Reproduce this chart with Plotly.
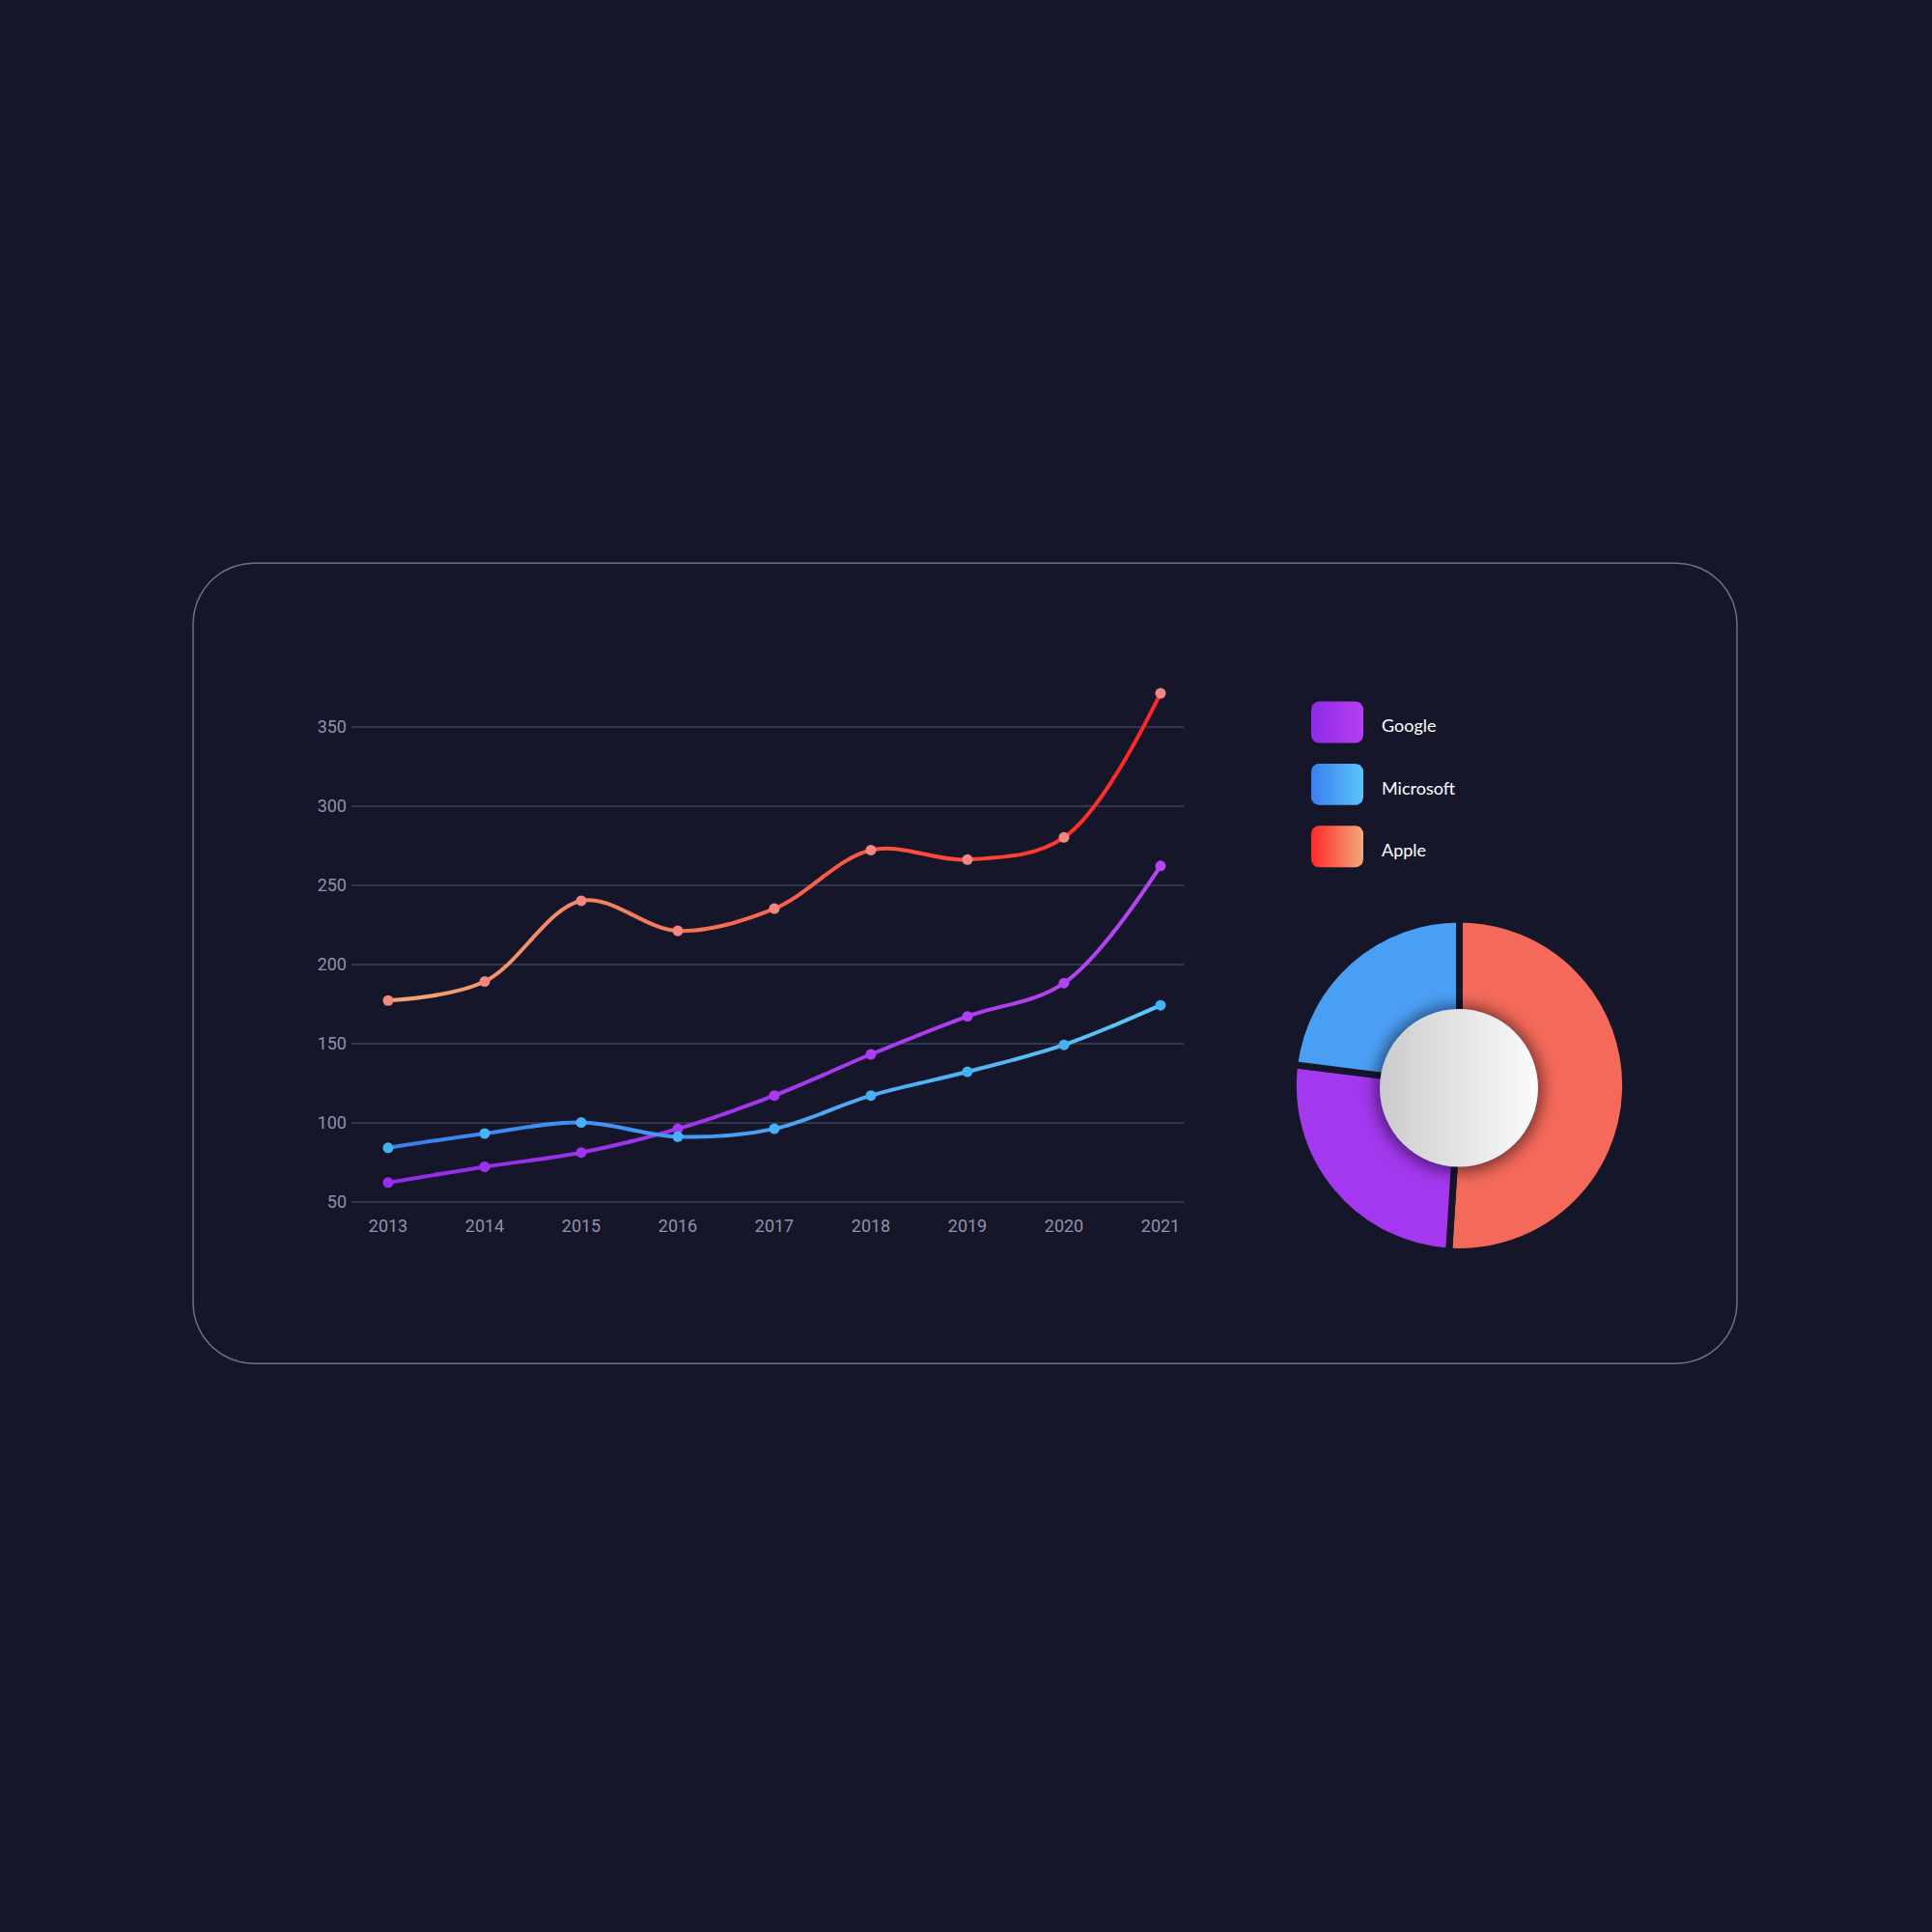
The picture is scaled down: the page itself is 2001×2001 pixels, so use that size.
import base64
import numpy as np
import plotly.graph_objects as go

# data
years = [2013, 2014, 2015, 2016, 2017, 2018, 2019, 2020, 2021]
google = [62, 72, 81, 96, 117, 143, 167, 188, 262]
microsoft = [84, 93, 100, 91, 96, 117, 132, 149, 174]
apple = [177, 189, 240, 221, 235, 272, 266, 280, 371]
y_ticks = [50, 100, 150, 200, 250, 300, 350]

share_names = ["Apple", "Google", "Microsoft"]
share_values = [51, 26, 23]

legend_names = ["Google", "Microsoft", "Apple"]

# styles
BG = "#15162a"
GRID = "#34354b"
TICK = "#9192a8"
BORDER = "#6f7088"

line_grad = {
    "Apple": ("#f0a878", "#ff2424"),
    "Google": ("#8f2de8", "#b845f2"),
    "Microsoft": ("#3a7ef0", "#5cc6fa"),
}
legend_grad = {
    "Google": ("#8c2ce8", "#b83ef0"),
    "Microsoft": ("#3a7ff0", "#5ac4fa"),
    "Apple": ("#ff2a2a", "#f0aa7a"),
}
pie_colors = ["#f4695a", "#a338ee", "#4a9ff4"]

W = 2001
X0, X1 = 2012.62, 2021.24
Y0, Y1 = 46, 385
XDOM = [364 / W, 1226 / W]
YDOM = [1 - 1253.6 / W, 1 - 696.5 / W]
N_SEG = 16


def mix(c0, c1, t):
    a = [int(c0[i:i + 2], 16) for i in (1, 3, 5)]
    b = [int(c1[i:i + 2], 16) for i in (1, 3, 5)]
    return "#" + "".join(f"{round(a[i] + (b[i] - a[i]) * t):02x}" for i in range(3))


def xdom(v):
    return XDOM[0] + (v - X0) / (X1 - X0) * (XDOM[1] - XDOM[0])


def rounded_rect(x0, y0, x1, y1, r, n=10):
    xs, ys = [], []
    corners = [(x1 - r, y0 + r, -90, 0), (x1 - r, y1 - r, 0, 90),
               (x0 + r, y1 - r, 90, 180), (x0 + r, y0 + r, 180, 270)]
    for cx, cy, a0, a1 in corners:
        for a in np.radians(np.linspace(a0, a1, n)):
            xs.append(cx + r * np.cos(a))
            ys.append(cy + r * np.sin(a))
    xs.append(xs[0])
    ys.append(ys[0])
    return xs, ys


fig = go.Figure()
layout_axes = {}

# main axes: grid + tick labels only
fig.add_trace(go.Scatter(x=[], y=[], xaxis="x", yaxis="y", showlegend=False))
layout_axes["xaxis"] = dict(domain=XDOM, range=[X0, X1], anchor="y", tickvals=years,
                            ticktext=[str(y) for y in years], showgrid=False, zeroline=False,
                            showline=False, ticks="", ticklabelstandoff=6,
                            tickfont=dict(family="Roboto", size=18, color=TICK))
layout_axes["yaxis"] = dict(domain=YDOM, range=[Y0, Y1], anchor="x", tickvals=y_ticks,
                            showgrid=True, gridcolor=GRID, gridwidth=1.5, zeroline=False,
                            showline=False, ticks="", ticklabelstandoff=4,
                            tickfont=dict(family="Roboto", size=18, color=TICK))
layout_axes["yaxis2"] = dict(domain=YDOM, range=[Y0, Y1], anchor="x2", visible=False)

# gradient lines: same spline drawn in narrow side-by-side subplots, each a different colour
series = [("Apple", apple), ("Google", google), ("Microsoft", microsoft)]
edges = np.linspace(years[0], years[-1], N_SEG + 1)
pad = 0.012
for k in range(N_SEG):
    ax_id = k + 2
    a, b = edges[k] - pad, edges[k + 1] + pad
    layout_axes[f"xaxis{ax_id}"] = dict(domain=[xdom(a), xdom(b)], range=[a, b],
                                        anchor="y2", visible=False)
    t = (edges[k] + edges[k + 1]) / 2
    t = (t - years[0]) / (years[-1] - years[0])
    for name, vals in series:
        fig.add_trace(go.Scatter(
            x=years, y=vals, mode="lines", xaxis=f"x{ax_id}", yaxis="y2",
            line=dict(shape="spline", smoothing=1, simplify=False, width=4,
                      color=mix(*line_grad[name], t)),
            hoverinfo="skip", showlegend=False))

# markers on top
mk_id = N_SEG + 2
layout_axes[f"xaxis{mk_id}"] = dict(domain=XDOM, range=[X0, X1], anchor="y2", visible=False)
tt = [(y - years[0]) / (years[-1] - years[0]) for y in years]
marker_colors = {
    "Apple": ["#f4877f"] * len(years),
    "Google": [mix("#982ff0", "#b646f4", t) for t in tt],
    "Microsoft": ["#46b2f6"] * len(years),
}
for name, vals in series:
    fig.add_trace(go.Scatter(
        x=years, y=vals, mode="markers", name=name, xaxis=f"x{mk_id}", yaxis="y2",
        marker=dict(size=11, color=marker_colors[name]), showlegend=False))

# canvas axes in pixel units for the card and legend swatches
cv_id = N_SEG + 3
layout_axes[f"xaxis{cv_id}"] = dict(domain=[0, 1], range=[0, W], anchor="y3", visible=False)
layout_axes["yaxis3"] = dict(domain=[0, 1], range=[W, 0], anchor=f"x{cv_id}", visible=False)

bx, by = rounded_rect(200, 584.5, 1799, 1415, 63, n=24)
fig.add_trace(go.Scatter(x=bx, y=by, mode="lines", xaxis=f"x{cv_id}", yaxis="y3",
                         line=dict(color=BORDER, width=1.5), hoverinfo="skip", showlegend=False))

annotations = []
for i, name in enumerate(legend_names):
    top = 728 + i * 64.5
    sx, sy = rounded_rect(1358, top, 1412, top + 43, 8)
    c0, c1 = legend_grad[name]
    fig.add_trace(go.Scatter(
        x=sx, y=sy, mode="lines", fill="toself", xaxis=f"x{cv_id}", yaxis="y3",
        line=dict(width=0, color=c0),
        fillgradient=dict(type="horizontal", start=1358, stop=1412,
                          colorscale=[[0, c0], [1, c1]]),
        hoverinfo="skip", showlegend=False))
    annotations.append(dict(x=1429 / W, y=1 - (top + 25) / W, xref="paper", yref="paper",
                            text=name, showarrow=False, xanchor="left", yanchor="middle",
                            font=dict(family="Lato", size=18, color="#ffffff")))

# donut
cx, cy, r = 1511.5, 1126.5, 172.5
fig.add_trace(go.Pie(
    labels=share_names, values=share_values, sort=False, direction="clockwise", rotation=0,
    hole=0.4, textinfo="none", hoverinfo="label+percent", showlegend=False,
    marker=dict(colors=pie_colors, line=dict(color=BG, width=7)),
    domain=dict(x=[(cx - r) / W, (cx + r) / W], y=[1 - (cy + r) / W, 1 - (cy - r) / W])))

# white centre disc with soft shadow (svg image so it can carry a gradient)
wx, wy, box = 1511, 1129, 260
svg = (
    "<svg xmlns='http://www.w3.org/2000/svg' width='260' height='260' viewBox='0 0 260 260'>"
    "<defs><linearGradient id='g' x1='0' x2='1' y1='0' y2='0'>"
    "<stop offset='0' stop-color='#cbcbcd'/><stop offset='1' stop-color='#fcfcfc'/>"
    "</linearGradient><filter id='s' x='-50%' y='-50%' width='200%' height='200%'>"
    "<feGaussianBlur stdDeviation='8'/></filter></defs>"
    "<circle cx='130' cy='131' r='86' fill='#06060f' fill-opacity='0.55' filter='url(#s)'/>"
    "<circle cx='130' cy='130' r='82' fill='url(#g)'/></svg>"
)
disc_src = "data:image/svg+xml;base64," + base64.b64encode(svg.encode()).decode()
images = [dict(source=disc_src, xref="paper", yref="paper",
               x=(wx - box / 2) / W, y=1 - (wy - box / 2) / W,
               sizex=box / W, sizey=box / W, xanchor="left", yanchor="top",
               sizing="stretch", layer="above")]

fig.update_layout(
    width=W, height=W,
    margin=dict(l=0, r=0, t=0, b=0),
    paper_bgcolor=BG, plot_bgcolor="rgba(0,0,0,0)",
    showlegend=False,
    annotations=annotations,
    images=images,
    **layout_axes,
)

fig.write_html("out.html", config={"displayModeBar": False},
               post_script="document.body.style.margin='0px';")
